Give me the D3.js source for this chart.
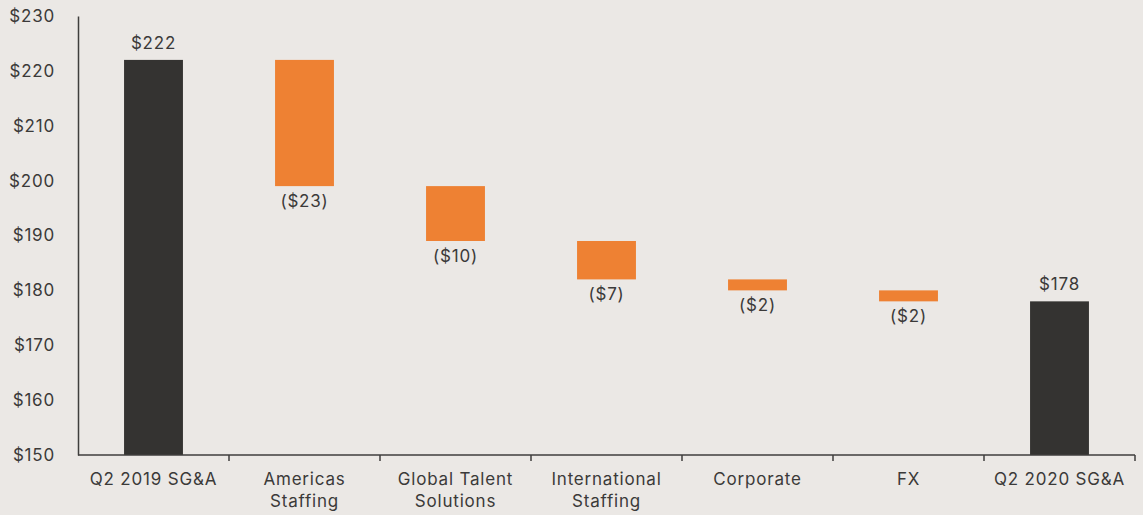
<!DOCTYPE html>
<html>
<head>
<meta charset="utf-8">
<script src="https://cdn.jsdelivr.net/npm/d3@7"></script>
<style>
  html, body { margin: 0; padding: 0; background: #ebe8e5; }
  svg { display: block; }
  text { font-family: Inter, "Open Sans", sans-serif; fill: #3b3a39; letter-spacing: 0.8px; }
</style>
</head>
<body>
<svg id="chart" width="1143" height="515"></svg>
<script>
// SG&A bridge, $ millions
const categories = ["Q2 2019 SG&A", "Americas Staffing", "Global Talent Solutions", "International Staffing", "Corporate", "FX", "Q2 2020 SG&A"];
const categoryLines = [["Q2 2019 SG&A"], ["Americas", "Staffing"], ["Global Talent", "Solutions"], ["International", "Staffing"], ["Corporate"], ["FX"], ["Q2 2020 SG&A"]];
const startValue = 222;
const changes = [-23, -10, -7, -2, -2];
const endValue = 178;
const yTicks = [150, 160, 170, 180, 190, 200, 210, 220, 230];

// Build waterfall segments: totals run from the axis floor, changes float
const segments = [];
let running = startValue;
segments.push({ cat: categories[0], lo: 150, hi: startValue, total: true, label: "$" + startValue });
changes.forEach((c, i) => {
  const from = running, to = running + c;
  segments.push({ cat: categories[i + 1], lo: Math.min(from, to), hi: Math.max(from, to), total: false,
    label: c < 0 ? "($" + Math.abs(c) + ")" : "$" + c });
  running = to;
});
segments.push({ cat: categories[6], lo: 150, hi: endValue, total: true, label: "$" + endValue });

const svg = d3.select("#chart");
const margin = { left: 78, right: 8, top: 16, bottom: 60 };
const W = 1143, H = 515;
const fontSize = 17;

const x = d3.scaleBand().domain(categories).range([margin.left, W - margin.right]).padding(0);
const y = d3.scaleLinear().domain([150, 230]).range([H - margin.bottom, margin.top]);
const barW = x.bandwidth() * 0.39;

// Bars
svg.append("g").selectAll("rect").data(segments).join("rect")
  .attr("x", d => x(d.cat) + (x.bandwidth() - barW) / 2)
  .attr("y", d => y(d.hi))
  .attr("width", barW)
  .attr("height", d => y(d.lo) - y(d.hi))
  .attr("fill", d => d.total ? "#343331" : "#ee8133");

// Value labels: totals above, decreases below
svg.append("g").selectAll("text").data(segments).join("text")
  .attr("x", d => x(d.cat) + x.bandwidth() / 2)
  .attr("y", d => d.total ? y(d.hi) - 11 : y(d.lo) + 21)
  .attr("text-anchor", "middle")
  .attr("font-size", fontSize)
  .text(d => d.label);

// Y axis
const yAxis = svg.append("g")
  .attr("transform", `translate(${margin.left},0)`)
  .call(d3.axisLeft(y).tickValues(yTicks).tickSize(0).tickPadding(23).tickFormat(d => "$" + d));
yAxis.select(".domain").attr("stroke", "#3f3e3d").attr("stroke-width", 1.5);
yAxis.selectAll("text").attr("font-size", fontSize).attr("font-family", null).attr("fill", "#3b3a39");

// X axis: ticks at band boundaries
const xAxisG = svg.append("g").attr("transform", `translate(0,${y(150)})`);
xAxisG.append("line")
  .attr("x1", margin.left).attr("x2", W - margin.right)
  .attr("stroke", "#3f3e3d").attr("stroke-width", 1.5);
const bounds = categories.map(c => x(c) + x.bandwidth());
xAxisG.selectAll("line.tick").data(bounds).join("line")
  .attr("class", "tick")
  .attr("x1", d => d).attr("x2", d => d)
  .attr("y1", 0).attr("y2", 6)
  .attr("stroke", "#3f3e3d").attr("stroke-width", 1.5);

const catLabels = xAxisG.selectAll("text.cat").data(categories).join("text")
  .attr("class", "cat")
  .attr("x", d => x(d) + x.bandwidth() / 2)
  .attr("y", 30)
  .attr("text-anchor", "middle")
  .attr("font-size", fontSize);
catLabels.each(function (d, i) {
  const t = d3.select(this);
  categoryLines[i].forEach((line, j) => {
    t.append("tspan").attr("x", x(d) + x.bandwidth() / 2).attr("dy", j === 0 ? 0 : 22).text(line);
  });
});
</script>
</body>
</html>
